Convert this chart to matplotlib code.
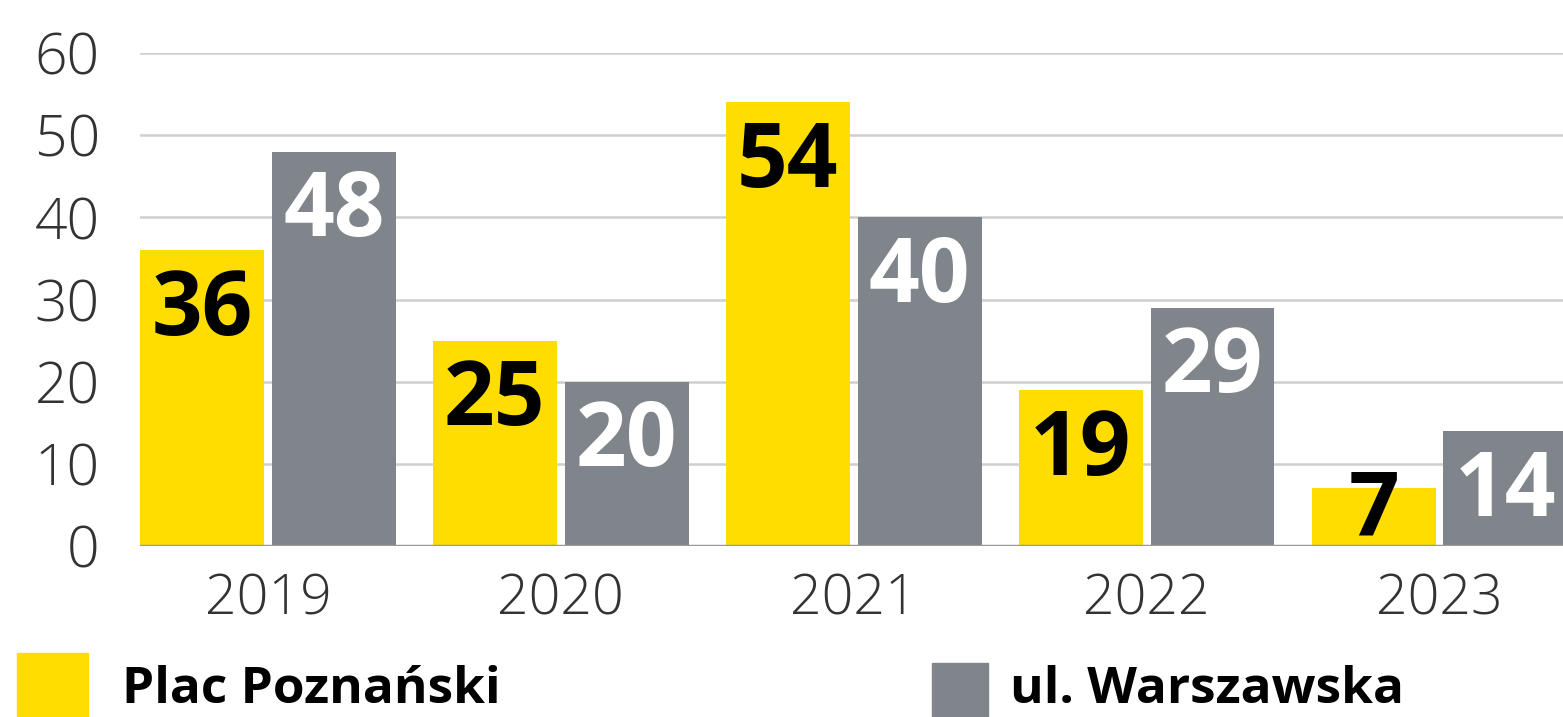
import matplotlib
matplotlib.use('Agg')
import matplotlib.pyplot as plt
import matplotlib.patches as mpatches
import numpy as np

plt.rcParams['font.family'] = ['Open Sans', 'DejaVu Sans']

years = ['2019', '2020', '2021', '2022', '2023']
plac_poznanski = [36, 25, 54, 19, 7]
ul_warszawska = [48, 20, 40, 29, 14]
series_names = ['Plac Poznański', 'ul. Warszawska']

yellow = '#FFDD00'
grey = '#7F858B'

fig = plt.figure(figsize=(15.63, 7.17), dpi=100)
W, H = 1563.0, 717.0
# axes from x=140px to right edge, y from 53px (60) to 546px (0)
ax = fig.add_axes([140 / W, (H - 546) / H, 1 - 140 / W, 493 / H])

x = np.arange(len(years))
width = 0.423
offset = 0.225

ax.bar(x - offset, plac_poznanski, width, color=yellow, zorder=2)
ax.bar(x + offset, ul_warszawska, width, color=grey, zorder=2)

# value labels inside the top of each bar
for xi, v in zip(x, plac_poznanski):
	ax.text(xi - offset, max(v - 10.3, 1.3), str(v), ha='center',
	        va='baseline', fontsize=64, fontweight='bold', color='black',
	        zorder=3)
for xi, v in zip(x, ul_warszawska):
	ax.text(xi + offset, max(v - 10.3, 1.3), str(v), ha='center',
	        va='baseline', fontsize=64, fontweight='bold', color='white',
	        zorder=3)

ax.set_xlim(-0.4366, (W - 267.5) / 293.0)
ax.set_ylim(0, 60)
ax.set_yticks(range(0, 61, 10))
ax.set_xticks(x)
ax.set_xticklabels(years)

ax.grid(True, axis='y', color='#cfcfcf', linewidth=1.8, zorder=0)
ax.set_axisbelow(True)
ax.axhline(0, color='#9a9a9a', linewidth=2.5, zorder=4)

for s in ax.spines.values():
	s.set_visible(False)
ax.tick_params(axis='both', length=0)
ax.tick_params(axis='y', labelsize=41, pad=29, labelcolor='#333333')
ax.tick_params(axis='x', labelsize=40, pad=19, labelcolor='#333333')
for lbl in ax.get_xticklabels() + ax.get_yticklabels():
	lbl.set_fontweight('light')

# legend drawn at the bottom of the figure (kept fully inside the image)
fig.patches.append(mpatches.Rectangle((17 / W, 0), 71 / W, (H - 653) / H,
                                      transform=fig.transFigure,
                                      color=yellow))
fig.patches.append(mpatches.Rectangle((932 / W, 0), 56 / W, (H - 663) / H,
                                      transform=fig.transFigure,
                                      color=grey))
fig.text(122 / W, 2 / H, series_names[0], ha='left', va='bottom',
         fontsize=37, fontweight='bold', color='black')
fig.text(1010 / W, 2 / H, series_names[1], ha='left', va='bottom',
         fontsize=37, fontweight='bold', color='black')

fig.savefig('out.png', dpi=100, facecolor='white')
